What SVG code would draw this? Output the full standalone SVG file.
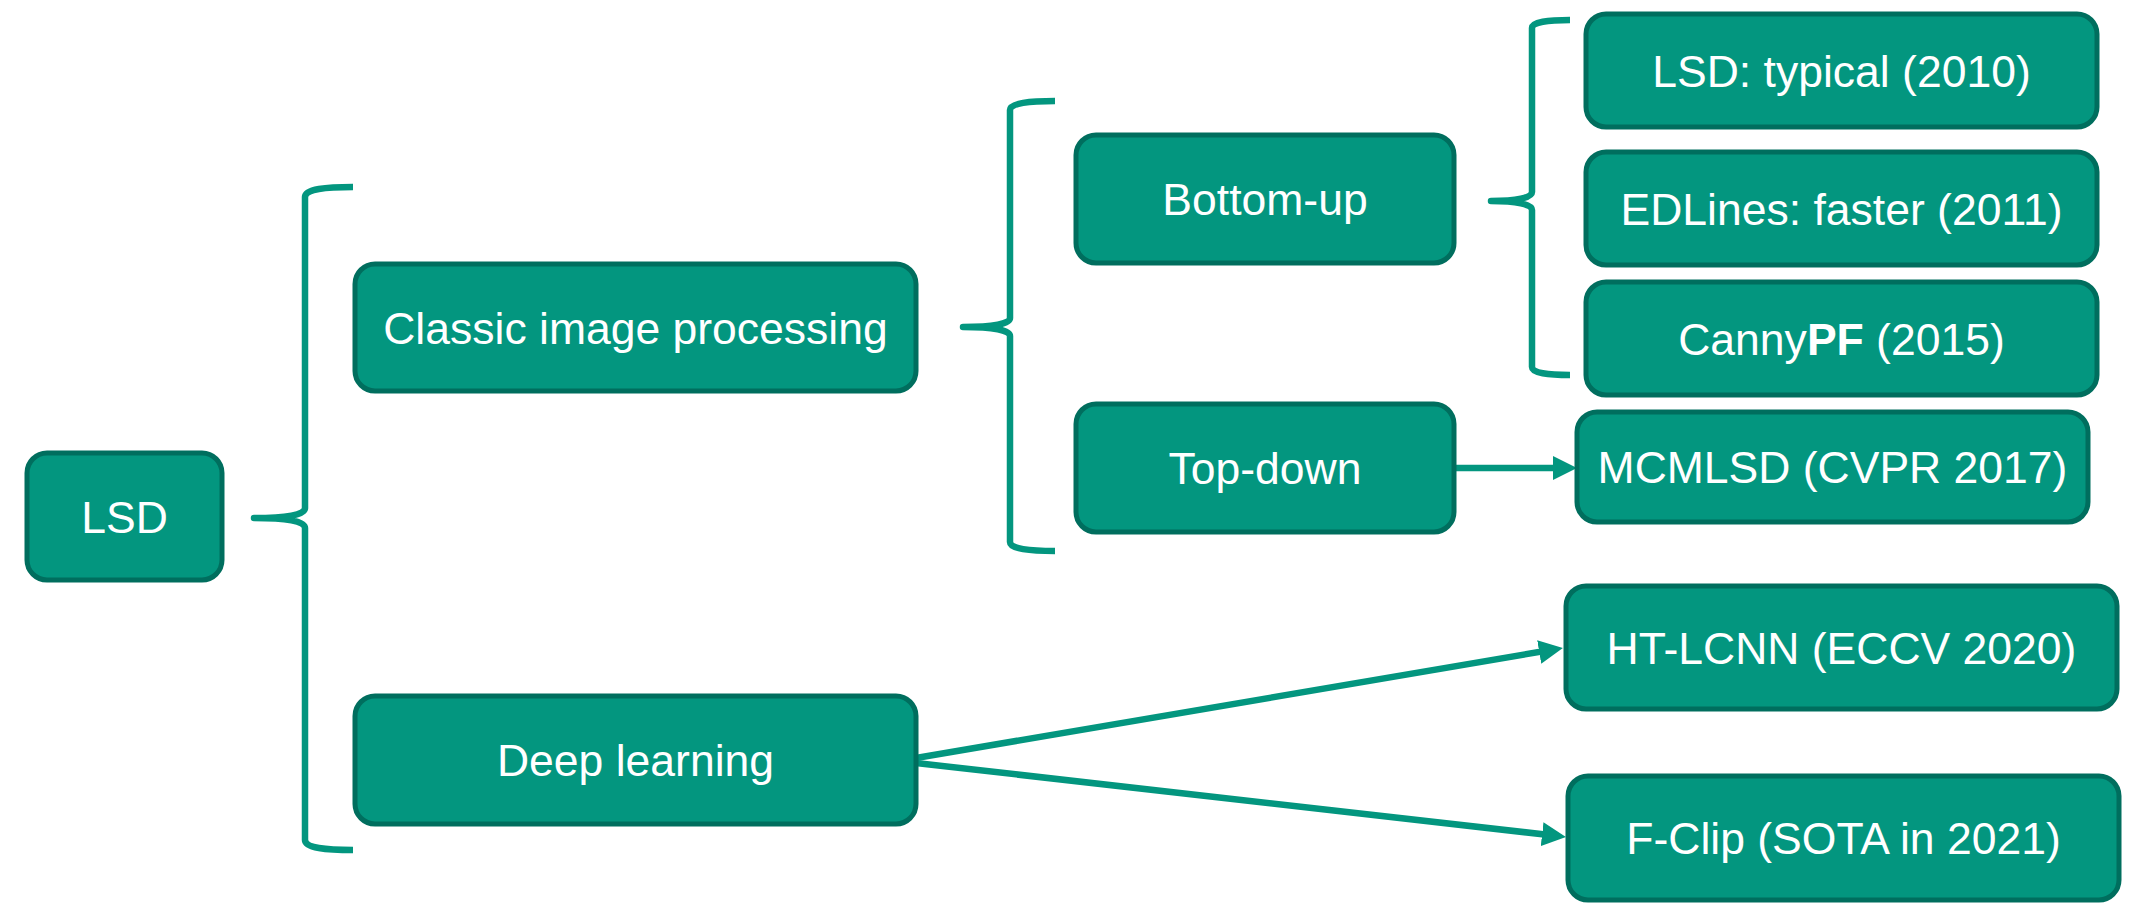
<svg xmlns="http://www.w3.org/2000/svg" width="2131" height="922" viewBox="0 0 2131 922">
<style>
.box{fill:#03967F;stroke:#006E5E;stroke-width:5}
.t{fill:#FFFFFF;font-family:"Liberation Sans",Arial,sans-serif;font-size:44.5px;text-anchor:middle}
.brace{fill:none;stroke:#03967F;stroke-width:6.5;stroke-linejoin:round}
.conn{fill:none;stroke:#03967F;stroke-width:6.5}
</style>
<defs>
<marker id="arr" markerUnits="userSpaceOnUse" markerWidth="26" markerHeight="26" refX="16" refY="12" orient="auto">
<path d="M0,0 L24,12 L0,24 z" fill="#03967F"/>
</marker>
</defs>
<rect width="2131" height="922" fill="#FFFFFF"/>
<g id="connectors">
<path class="brace" d="M353,187 C326,187 305,189 305,197 L305,508 C305,515 286,518 254,518 C286,518 305,521 305,528 L305,840 C305,848 326,850 353,850"/>
<path class="brace" d="M1055,101 C1030,101 1010,103 1010,110 L1010,318 C1010,324 993,327 963,327 C993,327 1010,330 1010,336 L1010,542 C1010,549 1030,551 1055,551"/>
<path class="brace" d="M1570,20 C1548,20 1532,22 1532,28 L1532,192 C1532,198 1516,201 1491,201 C1516,201 1532,204 1532,210 L1532,367 C1532,373 1548,375 1570,375"/>
<line class="conn" x1="1454" y1="468" x2="1569" y2="468" marker-end="url(#arr)"/>
<line class="conn" x1="916" y1="758" x2="1555" y2="649.3" marker-end="url(#arr)"/>
<line class="conn" x1="916" y1="763" x2="1558" y2="836" marker-end="url(#arr)"/>
</g>
<g id="lsd"><rect class="box" x="27" y="453" width="195" height="127" rx="20"/><text class="t" x="124.5" y="532.5">LSD</text></g>
<g id="classic"><rect class="box" x="355" y="264" width="561" height="127" rx="20"/><text class="t" x="635.5" y="343.5">Classic image processing</text></g>
<g id="deep"><rect class="box" x="355" y="696" width="561" height="128" rx="20"/><text class="t" x="635.5" y="776">Deep learning</text></g>
<g id="bottomup"><rect class="box" x="1076" y="135" width="378" height="128" rx="20"/><text class="t" x="1265" y="215">Bottom-up</text></g>
<g id="topdown"><rect class="box" x="1076" y="404" width="378" height="128" rx="20"/><text class="t" x="1265" y="484">Top-down</text></g>
<g id="lsdtypical"><rect class="box" x="1586" y="14" width="511" height="113" rx="20"/><text class="t" x="1841.5" y="86.5">LSD: typical (2010)</text></g>
<g id="edlines"><rect class="box" x="1586" y="152" width="511" height="113" rx="20"/><text class="t" x="1841.5" y="224.5">EDLines: faster (2011)</text></g>
<g id="cannypf"><rect class="box" x="1586" y="282" width="511" height="113" rx="20"/><text class="t" x="1841.5" y="354.5">Canny<tspan font-weight="bold">PF</tspan> (2015)</text></g>
<g id="mcmlsd"><rect class="box" x="1577" y="412" width="511" height="110" rx="20"/><text class="t" x="1832.5" y="483">MCMLSD (CVPR 2017)</text></g>
<g id="htlcnn"><rect class="box" x="1566" y="586" width="551" height="123" rx="20"/><text class="t" x="1841.5" y="663.5">HT-LCNN (ECCV 2020)</text></g>
<g id="fclip"><rect class="box" x="1568" y="776" width="551" height="124" rx="20"/><text class="t" x="1843.5" y="854">F-Clip (SOTA in 2021)</text></g>
</svg>
